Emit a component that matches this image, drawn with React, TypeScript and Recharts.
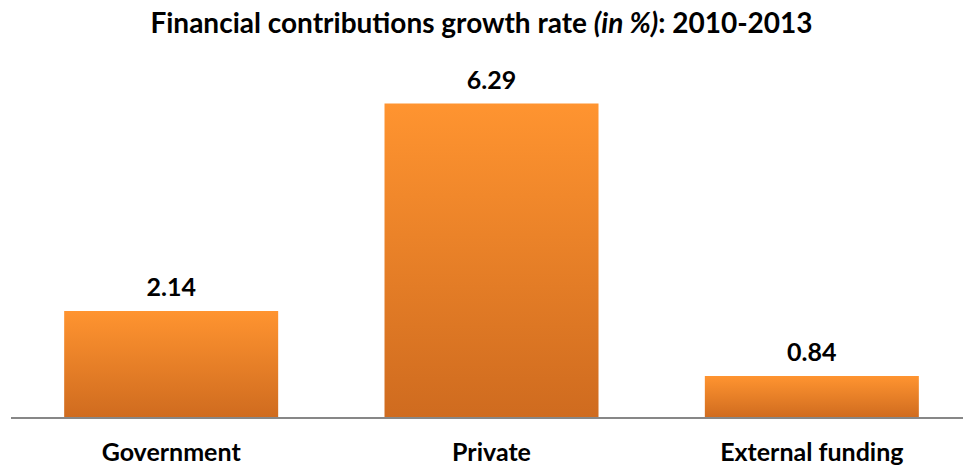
import React from "react";
import { BarChart, Bar, XAxis, YAxis, LabelList } from "recharts";

const categories = ["Government", "Private", "External funding"];
const growthRates = [2.14, 6.29, 0.84];

const data = categories.map((name, i) => ({ name, value: growthRates[i] }));

const FONT = "Lato, 'Open Sans', sans-serif";

export default function App() {
  return (
    <div style={{ position: "absolute", left: 0, top: 0, width: 963, height: 467, overflow: "hidden", background: "#fff" }}>
      <div
        style={{
          position: "absolute",
          top: 3,
          left: 0,
          width: 963,
          textAlign: "center",
          fontFamily: FONT,
          fontWeight: 700,
          fontSize: 28,
          lineHeight: "38px",
          color: "#000",
        }}
      >
        Financial contributions growth rate <i>(in %)</i>: 2010-2013
      </div>
      <BarChart
        width={972}
        height={467}
        data={data}
        margin={{ top: 68, right: 0, bottom: 0, left: 11 }}
        barCategoryGap="16.6%"
      >
        <defs>
          <linearGradient id="barGrad" x1="0" y1="0" x2="0" y2="1">
            <stop offset="0%" stopColor="#FF9430" />
            <stop offset="100%" stopColor="#CF6B1F" />
          </linearGradient>
        </defs>
        <YAxis hide domain={[0, 7]} />
        <XAxis
          dataKey="name"
          height={49}
          tickLine={false}
          axisLine={{ stroke: "#878787", strokeWidth: 2 }}
          tick={{ fill: "#000", fontFamily: FONT, fontWeight: 700, fontSize: 25 }}
          tickMargin={19}
          interval={0}
        />
        <Bar dataKey="value" fill="url(#barGrad)" isAnimationActive={false}>
          <LabelList
            dataKey="value"
            position="top"
            offset={15}
            formatter={(v: number) => v.toFixed(2)}
            style={{ fill: "#000", fontFamily: FONT, fontWeight: 700, fontSize: 25 }}
          />
        </Bar>
      </BarChart>
    </div>
  );
}
